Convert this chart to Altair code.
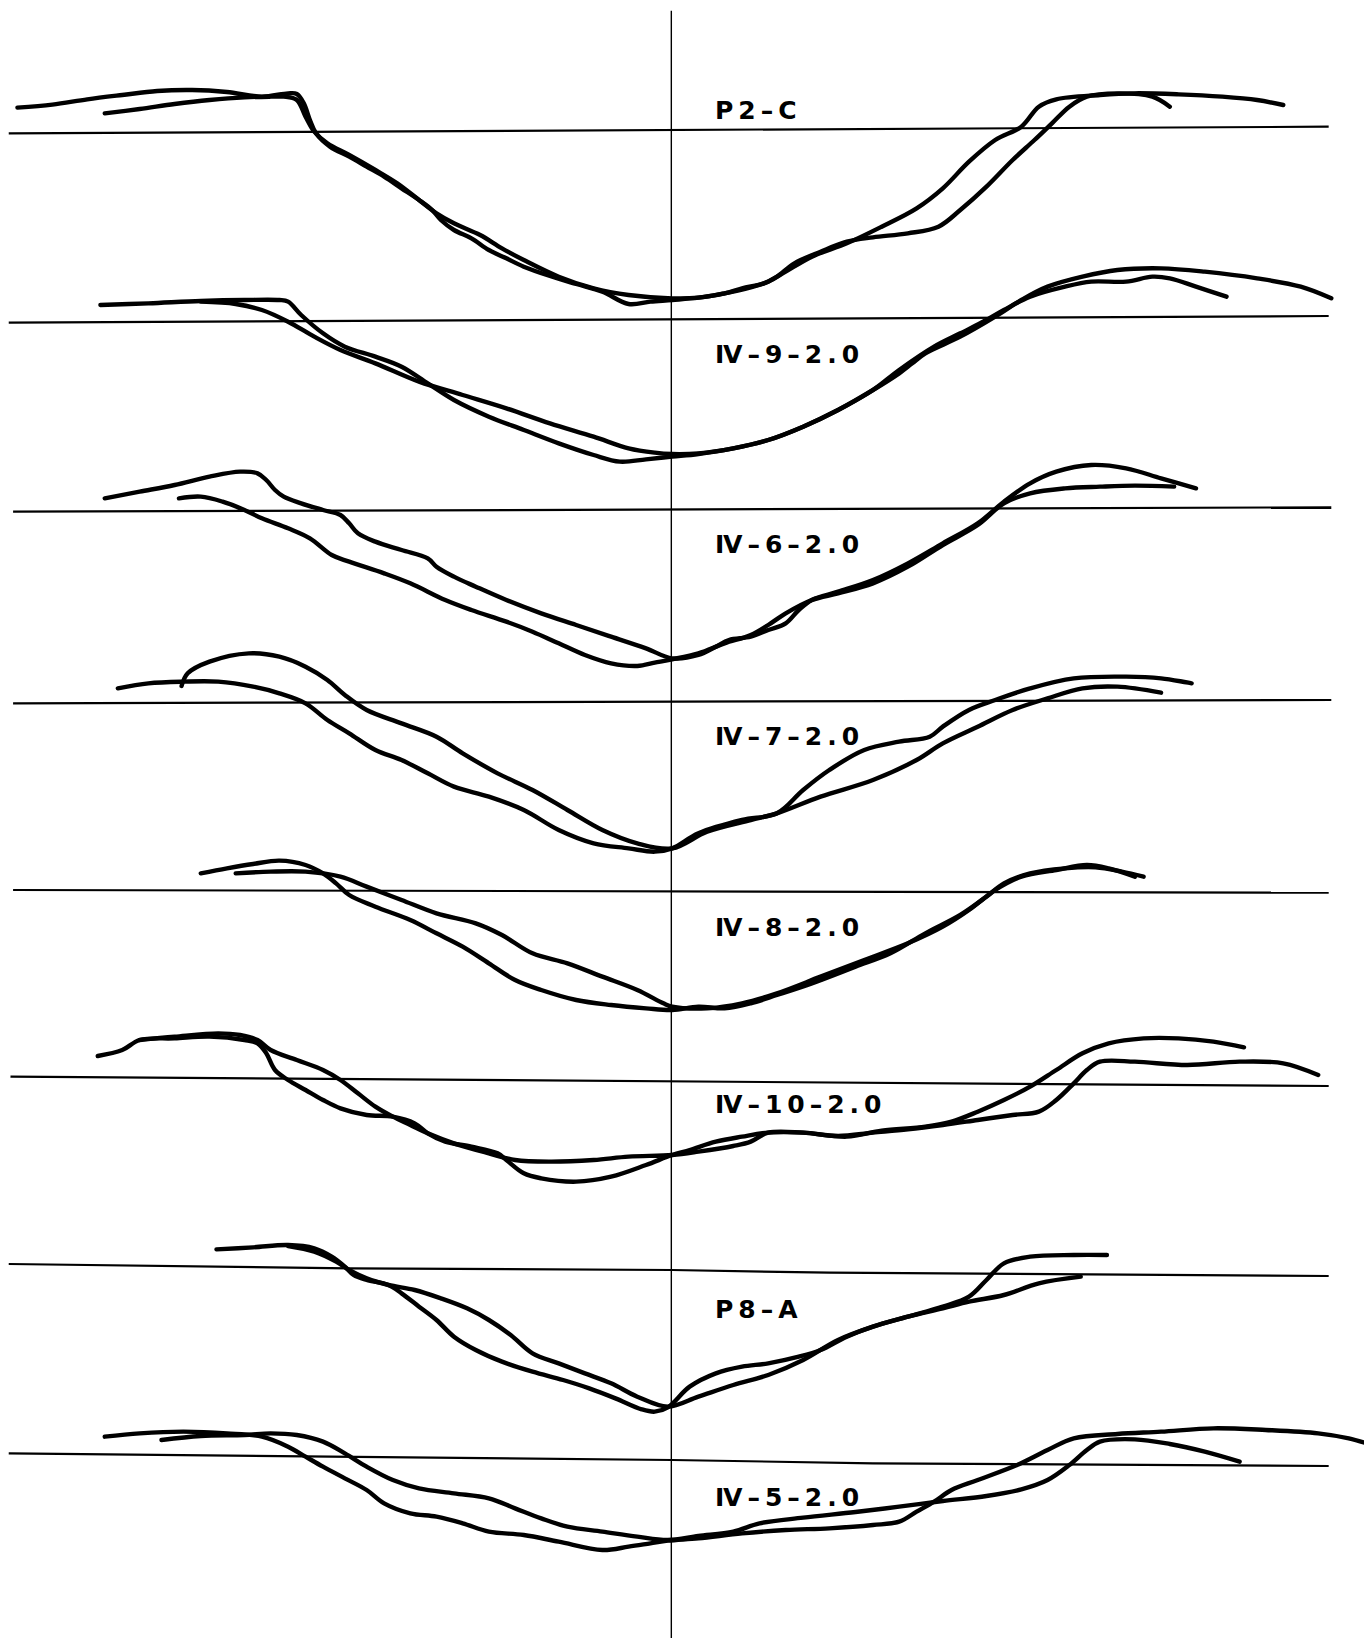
import altair as alt
import pandas as pd

# ---- traced values (x: station along section, y: elevation in trace units, positive downward)
label_text = ["P2-C", "Ⅳ-9-2.0", "Ⅳ-6-2.0", "Ⅳ-7-2.0", "Ⅳ-8-2.0", "Ⅳ-10-2.0", "P8-A", "Ⅳ-5-2.0"]
label_y = [111, 355, 545, 737, 928, 1105, 1310, 1498]
label_x = 819
center_x = 769
center_top = 10.7
center_bottom = 1652

# datum (water) line per section
water_x = [[10, 1522], [10, 1522], [15, 1525], [15, 1525], [15, 1522], [12, 1522],
           [10, 400, 770, 950, 1522], [10, 770, 1000, 1522]]
water_y = [[133.3, 126.7], [322.7, 316], [511.7, 507.3], [703.3, 700], [890, 892.7], [1076.7, 1086],
           [1264, 1268.3, 1270, 1272.7, 1276], [1453.3, 1460, 1463.3, 1466]]

# sections: base offset, and two surveyed profiles (a, b); y values in 1/3 units below base
bases = [0, 0, 440, 440, 840, 840, 1220, 1220]

p1_ax = [20,60,100,140,180,220,260,300,330,340,348,355,362,378,400,420,440,460,480,495,505,520,540,560,580,600,630,660,690,720,745,770,800,830,850,875,890,910,940,970,1000,1040,1075,1100,1130,1160,1185,1205,1225,1245,1280,1320,1340]
p1_ay = [323,314,298,285,273,270,276,290,280,282,310,360,400,440,470,500,530,565,600,630,660,690,715,750,775,800,828,852,875,912,905,900,893,880,865,850,830,790,755,725,712,700,680,630,560,480,420,370,320,290,280,290,320]
p1_bx = [120,160,200,240,280,310,325,340,350,360,375,400,430,455,480,500,520,550,575,600,640,680,720,770,800,830,860,880,900,930,970,1010,1050,1080,1110,1140,1170,1190,1210,1260,1300,1350,1400,1440,1470]
p1_by = [340,327,312,300,292,290,290,300,350,395,430,465,510,550,600,640,670,705,745,780,830,865,885,895,893,880,862,845,815,770,730,680,625,565,485,420,380,320,298,285,280,283,290,300,315]

p2_ax = [115,170,230,280,320,330,345,370,395,430,460,490,520,560,600,640,680,710,740,770,800,840,880,920,960,1000,1030,1045,1060,1100,1140,1170,1200,1240,1280,1330,1380,1440,1490,1525]
p2_ay = [915,910,903,900,900,905,945,1000,1040,1070,1100,1150,1200,1250,1290,1330,1365,1385,1378,1370,1362,1345,1320,1280,1230,1170,1120,1090,1060,1010,950,900,860,830,810,805,815,835,860,895]
p2_bx = [230,270,300,330,360,390,430,480,530,580,630,680,720,750,770,800,840,880,920,960,1000,1030,1070,1100,1130,1150,1180,1220,1250,1290,1320,1340,1370,1405]
p2_by = [905,912,930,965,1010,1050,1090,1145,1185,1225,1270,1310,1345,1358,1362,1360,1345,1320,1280,1230,1170,1110,1040,1000,960,930,890,860,845,845,830,835,860,890]

p3_ax = [120,160,200,240,275,295,305,315,325,345,370,390,400,410,430,460,490,500,520,545,580,620,660,700,740,770,800,820,835,860,880,900,915,930,960,1000,1040,1080,1120,1150,1180,1210,1250,1290,1330,1370]
p3_ay = [175,155,135,110,95,100,120,150,170,190,210,225,250,280,305,330,355,380,410,440,480,520,555,590,625,655,645,620,600,590,570,550,510,480,455,420,370,310,250,185,130,95,75,85,115,145]
p3_bx = [205,230,255,280,300,330,355,380,400,440,470,510,540,580,610,640,670,700,730,750,770,800,830,860,880,900,930,960,1000,1040,1080,1120,1150,1180,1220,1260,1300,1345]
p3_by = [175,170,185,210,235,265,295,345,365,400,430,480,510,545,575,610,645,670,678,668,658,640,610,585,555,520,480,460,430,380,315,255,190,160,145,140,137,140]

p4_ax = [135,170,210,250,290,320,350,375,400,430,460,490,520,560,600,640,680,720,750,770,800,850,890,920,950,990,1030,1065,1080,1110,1140,1180,1230,1290,1330,1365]
p4_ay = [745,730,725,725,740,760,790,840,880,930,960,1000,1040,1070,1110,1170,1210,1225,1235,1225,1180,1140,1120,1050,990,930,905,890,860,810,780,745,715,710,715,730]
p4_bx = [208,215,240,285,320,350,375,395,420,460,500,530,570,610,650,690,730,770,810,860,890,940,1000,1050,1080,1120,1160,1200,1240,1280,1330]
p4_by = [738,700,665,640,650,680,720,765,810,850,890,940,1000,1050,1110,1170,1210,1225,1175,1140,1120,1070,1020,960,910,860,810,775,745,740,758]

p5_ax = [230,260,290,320,350,370,385,400,430,470,500,530,560,590,620,660,700,740,770,800,830,860,890,930,980,1020,1060,1100,1130,1150,1180,1220,1255,1285,1310]
p5_ay = [100,85,72,62,75,100,130,165,200,240,280,320,370,420,450,480,495,505,510,500,505,490,465,430,380,340,280,225,170,130,100,85,82,95,110]
p5_bx = [270,310,350,390,420,460,500,545,575,610,650,690,730,760,770,810,850,890,940,990,1040,1080,1110,1140,1170,1210,1245,1270,1300]
p5_by = [100,95,95,110,140,180,220,250,285,340,370,410,450,490,500,505,490,460,410,360,310,260,210,150,110,90,75,85,110]

p6_ax = [112,140,160,200,240,280,295,305,315,330,350,370,390,420,450,475,490,510,540,570,580,600,620,660,700,740,770,790,820,850,880,920,960,1000,1040,1080,1120,1160,1190,1210,1230,1245,1260,1300,1360,1420,1470,1510]
p6_ay = [648,630,600,595,590,600,610,640,690,720,750,780,805,825,830,850,880,905,920,940,960,1000,1015,1025,1010,975,945,930,905,890,878,878,888,878,868,855,840,825,815,780,730,690,665,665,675,665,670,705]
p6_bx = [160,200,250,275,295,310,340,370,390,410,430,450,470,490,520,560,590,630,680,720,770,800,840,860,880,920,970,1010,1060,1090,1120,1150,1180,1210,1240,1270,1310,1350,1390,1425]
p6_by = [600,590,580,585,600,630,660,690,720,760,800,830,855,880,910,940,960,965,960,950,945,935,918,905,878,878,890,872,860,845,815,780,740,690,640,610,595,595,605,622]

p7_ax = [248,290,330,360,380,395,405,420,445,460,480,500,520,545,575,610,645,675,705,735,750,765,790,820,850,880,915,940,970,1000,1040,1080,1110,1130,1150,1180,1230,1268]
p7_ay = [88,82,75,85,110,140,165,180,195,220,260,300,350,390,425,455,480,505,535,568,575,562,500,460,440,430,410,390,350,320,290,260,230,180,130,110,105,105]
p7_bx = [330,360,385,400,420,445,475,505,535,560,585,610,640,670,700,730,765,800,840,880,920,960,1000,1040,1080,1110,1150,1190,1238]
p7_by = [78,95,125,150,175,195,210,235,265,300,345,400,430,460,490,530,560,530,495,465,420,360,320,290,265,245,225,190,170]

p8_ax = [120,160,210,260,300,330,350,370,395,420,440,470,500,530,560,600,640,690,720,745,765,800,850,900,950,1000,1030,1050,1070,1090,1120,1165,1200,1230,1280,1330,1390,1450,1510,1545,1568]
p8_ay = [650,640,635,640,650,680,710,740,775,810,850,880,890,910,935,945,965,990,980,970,962,955,940,930,925,915,905,875,845,810,780,735,690,655,642,635,625,630,640,655,672]
p8_bx = [185,230,280,310,340,370,395,420,450,480,520,560,590,620,650,690,730,765,800,840,870,920,980,1030,1080,1130,1170,1200,1225,1245,1260,1300,1340,1380,1420]
p8_by = [660,648,645,640,645,665,700,740,780,805,820,835,865,895,920,935,950,960,948,935,910,893,876,860,843,828,808,780,735,690,665,658,672,695,725]

profiles = [
    (p1_ax, p1_ay, p1_bx, p1_by), (p2_ax, p2_ay, p2_bx, p2_by),
    (p3_ax, p3_ay, p3_bx, p3_by), (p4_ax, p4_ay, p4_bx, p4_by),
    (p5_ax, p5_ay, p5_bx, p5_by), (p6_ax, p6_ay, p6_bx, p6_by),
    (p7_ax, p7_ay, p7_bx, p7_by), (p8_ax, p8_ay, p8_bx, p8_by),
]

rows = []
for i, (ax, ay, bx, by) in enumerate(profiles):
    for name, xs_, ys_ in (("a", ax, ay), ("b", bx, by)):
        for k, (xv, yv) in enumerate(zip(xs_, ys_)):
            rows.append({"key": f"{i}{name}", "x": xv, "y": bases[i] + yv / 3.0, "o": k})
curves = pd.DataFrame(rows)

wrows = []
for i, (xs_, ys_) in enumerate(zip(water_x, water_y)):
    for k, (xv, yv) in enumerate(zip(xs_, ys_)):
        wrows.append({"key": f"w{i}", "x": xv, "y": yv, "o": k})
water = pd.DataFrame(wrows)

# spaced lettering (thin spaces between characters, en dashes for hyphens)
def letter(s):
    return "\u2009".join(ch if ch != "-" else "\u2013" for ch in s)

labels_df = pd.DataFrame({"x": [label_x] * len(label_text), "y": label_y,
                          "t": [letter(s) for s in label_text]})
center_df = pd.DataFrame({"x": [center_x], "y": [center_top], "y2": [center_bottom]})

W, H = 1356, 1630
xs = alt.Scale(domain=[8 * 1.1455, 1364 * 1.1455], nice=False, zero=False)
ys = alt.Scale(domain=[8, 8 + H], nice=False, zero=False, reverse=True)
X = lambda: alt.X("x:Q", scale=xs, axis=None)
Y = lambda: alt.Y("y:Q", scale=ys, axis=None)

curve_layer = alt.Chart(curves).mark_line(
    color="black", strokeWidth=4.4, strokeJoin="round", strokeCap="round",
    interpolate="catmull-rom", clip=True
).encode(x=X(), y=Y(), detail="key:N", order="o:Q")

water_layer = alt.Chart(water).mark_line(
    color="black", strokeWidth=2.2, clip=True
).encode(x=X(), y=Y(), detail="key:N", order="o:Q")

center_layer = alt.Chart(center_df).mark_rule(
    color="black", strokeWidth=1.4, clip=True
).encode(x=X(), y=Y(), y2="y2:Q")

text_layer = alt.Chart(labels_df).mark_text(
    align="left", baseline="middle", font="DejaVu Sans", fontWeight="bold",
    fontSize=25, color="black"
).encode(x=X(), y=Y(), text="t:N")

chart = alt.layer(water_layer, center_layer, curve_layer, text_layer).properties(
    width=W, height=H, padding=0,
    autosize=alt.AutoSizeParams(type="fit", contains="padding"),
    background="white",
).configure_view(stroke=None)

chart.save("out.html", embed_options={"renderer": "svg", "actions": False})
